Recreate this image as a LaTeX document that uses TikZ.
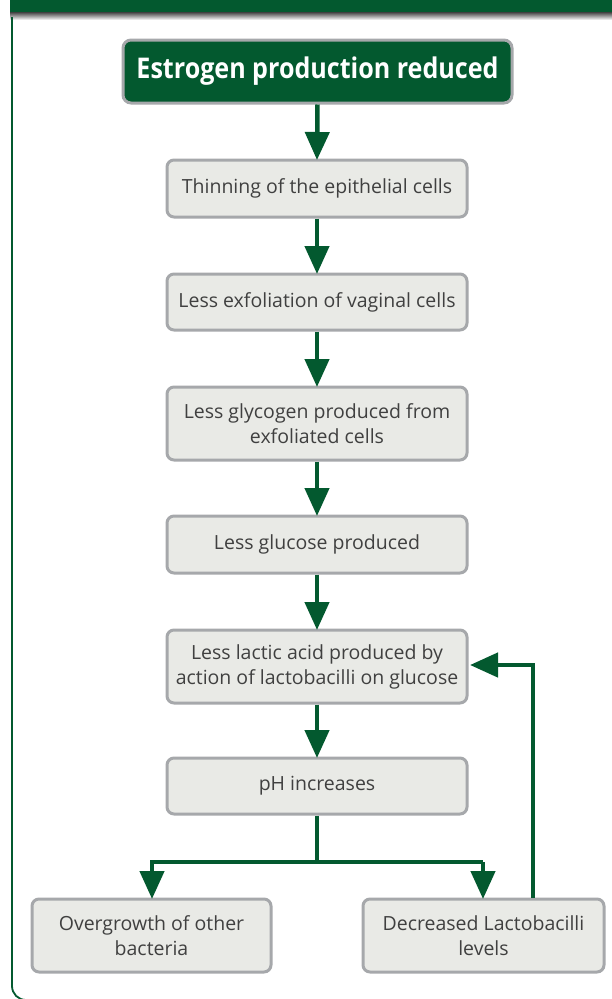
\documentclass[tikz,border=0pt]{standalone}
\usepackage{fontspec}
\setmainfont{Open Sans}
\newfontfamily\titlefont[FakeStretch=0.88]{Open Sans}
\usetikzlibrary{arrows.meta,positioning}
\definecolor{dkgreen}{HTML}{03592F}
\definecolor{boxfill}{HTML}{E9EAE6}
\definecolor{boxline}{HTML}{A6A8AB}
\definecolor{txt}{HTML}{404040}
\tikzset{
  x=1pt, y=-1pt,
  stepbox/.style={draw=boxline, line width=3pt, fill=boxfill, rounded corners=7pt,
    text=txt, align=center, font=\fontsize{19.5}{25}\selectfont, inner sep=0pt},
  arr/.style={draw=dkgreen, line width=4.5pt, -{Triangle[width=24pt,length=28pt]}},
  ln/.style={draw=dkgreen, line width=4.5pt}
}
\begin{document}
\begin{tikzpicture}
\useasboundingbox (0,0) rectangle (612,999);
% header bar and frame
\shade[top color=black!75, bottom color=white] (10,12) rectangle (612,20);
\fill[dkgreen] (10,0) rectangle (612,12);
\draw[dkgreen, line width=1.8pt, rounded corners=14pt] (12,17) -- (12,1000) -- (612,1000);
% nodes
\node[draw=boxline, line width=3pt, fill=dkgreen, rounded corners=8pt, text=white,
  font=\titlefont\bfseries\fontsize{28.5}{32}\selectfont, minimum width=389pt, minimum height=63pt, inner sep=0pt]
  (n0) at (317.5,71.5) {Estrogen production reduced};
\node[stepbox, minimum width=300pt, minimum height=57pt] (n1) at (317,188.5) {Thinning of the epithelial cells};
\node[stepbox, minimum width=300pt, minimum height=56pt] (n2) at (317,302) {Less exfoliation of vaginal cells};
\node[stepbox, minimum width=300pt, minimum height=73pt] (n3) at (317,423.5) {Less glycogen produced from\\exfoliated cells};
\node[stepbox, minimum width=300pt, minimum height=57pt] (n4) at (317,544.5) {Less glucose produced};
\node[stepbox, minimum width=300pt, minimum height=73pt] (n5) at (317,666.5) {Less lactic acid produced by\\action of lactobacilli on glucose};
\node[stepbox, minimum width=300pt, minimum height=56pt] (n6) at (317,786) {pH increases};
\node[stepbox, minimum width=239pt, minimum height=73pt] (n7) at (151.5,935.5) {Overgrowth of other\\bacteria};
\node[stepbox, minimum width=241pt, minimum height=73pt] (n8) at (483.5,935.5) {Decreased Lactobacilli\\levels};
% connectors
\draw[arr] (n0.south) -- ([yshift=-1.5pt]n1.north);
\draw[arr] (n1.south) -- ([yshift=-1.5pt]n2.north);
\draw[arr] (n2.south) -- ([yshift=-1.5pt]n3.north);
\draw[arr] (n3.south) -- ([yshift=-1.5pt]n4.north);
\draw[arr] (n4.south) -- ([yshift=-1.5pt]n5.north);
\draw[arr] (n5.south) -- ([yshift=-1.5pt]n6.north);
\coordinate (br) at (317,862);
\coordinate (bl) at (152,862);
\coordinate (brr) at (483,862);
\draw[ln] (n6.south) -- (br);
\draw[arr] ([xshift=2.25pt]bl) -- (152,862) -- ([yshift=-1.5pt]n7.north -| bl);
\draw[ln] (bl) -- (brr);
\draw[arr] (brr) -- ([yshift=-1.5pt]n8.north -| brr);
\coordinate (fb) at (533,665);
\draw[arr] (n8.north -| fb) -- (fb) -- ([xshift=1.5pt]n5.east |- fb);
\end{tikzpicture}
\end{document}
